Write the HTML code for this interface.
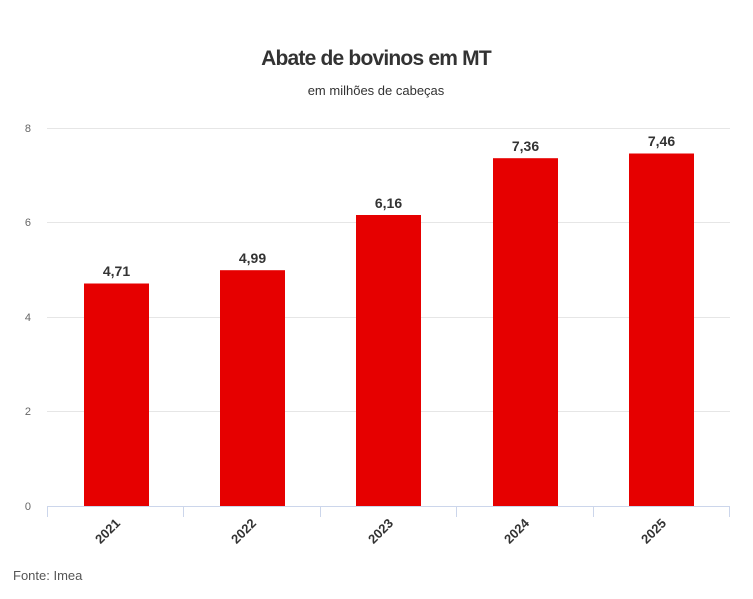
<!DOCTYPE html>
<html><head><style>body{margin:0;background:#fff}svg{display:block}text{font-family:"Liberation Sans",sans-serif}</style></head><body>
<svg width="753" height="599" xmlns="http://www.w3.org/2000/svg">
<text x="376" y="65" text-anchor="middle" font-size="21" font-weight="bold" fill="#333" letter-spacing="-0.8">Abate de bovinos em MT</text>
<text x="376" y="95" text-anchor="middle" font-size="13" fill="#333">em milhões de cabeças</text>
<g stroke="#e6e6e6" stroke-width="1">
<line x1="47" x2="730" y1="128.5" y2="128.5"/><line x1="47" x2="730" y1="222.5" y2="222.5"/><line x1="47" x2="730" y1="317.5" y2="317.5"/><line x1="47" x2="730" y1="411.5" y2="411.5"/>
</g>
<g font-size="11" fill="#666" text-anchor="end">
<text x="31" y="132">8</text><text x="31" y="226">6</text><text x="31" y="321">4</text><text x="31" y="415">2</text><text x="31" y="510">0</text>
</g>
<g fill="#e60000">
<rect x="84" y="283.5" width="65" height="222.5"/>
<rect x="220" y="270.2" width="65" height="235.8"/>
<rect x="356" y="215" width="65" height="291"/>
<rect x="493" y="158.2" width="65" height="347.8"/>
<rect x="629" y="153.5" width="65" height="352.5"/>
</g>
<g stroke="#ccd6eb" stroke-width="1">
<line x1="47" x2="730" y1="506.5" y2="506.5"/>
<line x1="47.5" x2="47.5" y1="506" y2="517"/><line x1="183.5" x2="183.5" y1="506" y2="517"/><line x1="320.5" x2="320.5" y1="506" y2="517"/><line x1="456.5" x2="456.5" y1="506" y2="517"/><line x1="593.5" x2="593.5" y1="506" y2="517"/><line x1="729.5" x2="729.5" y1="506" y2="517"/>
</g>
<g font-size="14" font-weight="bold" fill="#333" text-anchor="middle">
<text x="116.5" y="276">4,71</text><text x="252.5" y="263">4,99</text><text x="388.5" y="208">6,16</text><text x="525.5" y="151">7,36</text><text x="661.5" y="146">7,46</text>
</g>
<g font-size="13" font-weight="bold" fill="#333" text-anchor="end">
<text transform="translate(121,524) rotate(-45)">2021</text>
<text transform="translate(257,524) rotate(-45)">2022</text>
<text transform="translate(394,524) rotate(-45)">2023</text>
<text transform="translate(530,524) rotate(-45)">2024</text>
<text transform="translate(667,524) rotate(-45)">2025</text>
</g>
<text x="13" y="580" font-size="13" fill="#555">Fonte: Imea</text>
</svg>
</body></html>
